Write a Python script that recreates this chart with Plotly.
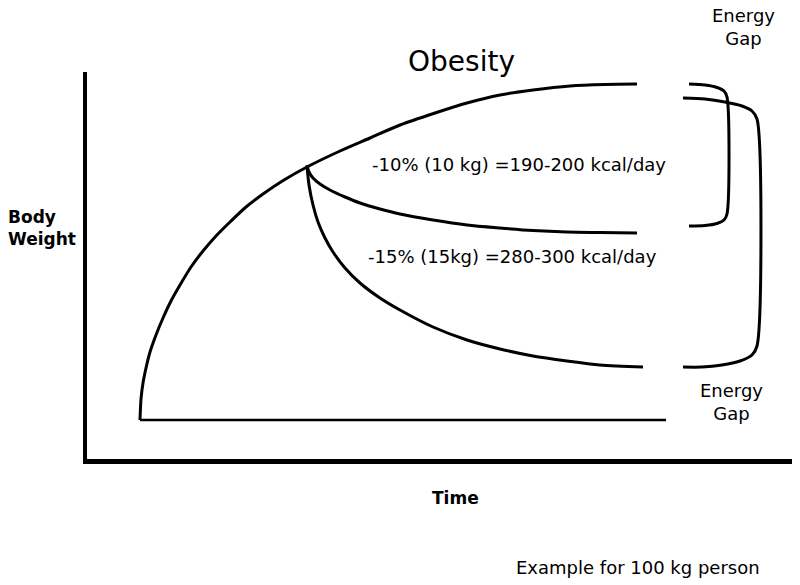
import plotly.graph_objects as go

# ---- data (time on x, body weight on y; arbitrary units) ----
growth_time   = [140, 141, 143, 146, 150, 156, 163, 171, 180, 191, 203, 216, 230, 246, 263, 284, 307,
                 340, 370, 400, 435, 467, 500, 533, 570, 605, 637]
growth_weight = [165, 186, 202, 217, 233, 250, 267, 284, 300, 318, 334, 349, 363, 378, 391, 405, 418,
                 434, 447, 460, 472, 482, 490, 495, 499, 500.5, 501]

loss10_time   = [307, 309, 313, 320, 330, 345, 360, 380, 400, 433, 467, 500, 533, 567, 600, 637]
loss10_weight = [420, 413, 407, 401, 395, 388, 382, 376, 371, 365, 360, 357, 354.5, 353, 352.5, 352]

loss15_time   = [307, 309, 313, 318, 325, 333, 345, 360, 380, 400, 433, 467, 500, 533, 567, 600, 643]
loss15_weight = [419, 400, 380, 363, 347, 333, 317, 302, 287, 275, 258, 245, 236, 229, 224, 220, 218]

baseline_time   = [140, 666]
baseline_weight = [165, 165]

gap10_time   = [689, 705, 717, 724, 727, 727, 724, 717, 705, 689]
gap10_weight = [501, 500, 497.5, 494, 488, 371, 365, 361.5, 359.5, 359]

gap15_time   = [683, 705, 725, 742, 752, 757, 757, 752, 740, 722, 702, 683]
gap15_weight = [487, 486, 483, 479, 474, 466, 239, 230, 224, 220, 218, 218]

labels = {
    "title": "Obesity",
    "loss10": "-10% (10 kg) =190-200 kcal/day",
    "loss15": "-15% (15kg) =280-300 kcal/day",
    "gap": "Energy<br>Gap",
    "ylabel": "Body<br>Weight",
    "xlabel": "Time",
    "note": "Example for 100 kg person",
}

FONT = "DejaVu Sans"
W, H = 800, 585
PLOT_X0, PLOT_X1 = 87, 792     # pixels of the plot area
PLOT_Y0, PLOT_Y1 = 72, 459
L = PLOT_X0
R = W - PLOT_X1
T = PLOT_Y0
B = H - PLOT_Y1

fig = go.Figure()

def curve(x, y, width=3):
    fig.add_trace(go.Scatter(x=x, y=y, mode="lines",
                             line=dict(color="black", width=width, shape="spline", smoothing=0.8),
                             hoverinfo="skip", showlegend=False, cliponaxis=False))

curve(growth_time, growth_weight)
curve(loss10_time, loss10_weight)
curve(loss15_time, loss15_weight)
curve(baseline_time, baseline_weight, width=2.7)
curve(gap10_time, gap10_weight)
curve(gap15_time, gap15_weight)

def px2paper(px, py):
    return (px - PLOT_X0) / (PLOT_X1 - PLOT_X0), (PLOT_Y1 - py) / (PLOT_Y1 - PLOT_Y0)

def note(text, px, py, size, bold=False, xanchor="center", align="center"):
    xp, yp = px2paper(px, py)
    fig.add_annotation(text=f"<b>{text}</b>" if bold else text, x=xp, y=yp,
                       xref="paper", yref="paper", showarrow=False,
                       xanchor=xanchor, yanchor="middle", align=align,
                       font=dict(family=FONT, size=size, color="black"))

note(labels["title"], 461, 61, 28)
note(labels["loss10"], 519, 164, 18)
note(labels["loss15"], 512, 256, 18)
note(labels["gap"], 743, 27, 18)
note(labels["gap"], 731, 402, 18)
note(labels["ylabel"], 6, 228, 17, bold=True, xanchor="left", align="left")
note(labels["xlabel"], 455, 498, 17, bold=True)
note(labels["note"], 638, 567, 18)

axis_common = dict(showgrid=False, zeroline=False, showticklabels=False, ticks="",
                   showline=True, linecolor="black", fixedrange=True)
fig.update_layout(
    width=W, height=H,
    margin=dict(l=L, r=R, t=T, b=B),
    paper_bgcolor="white", plot_bgcolor="white",
    xaxis=dict(range=[PLOT_X0, PLOT_X1], linewidth=5, **axis_common),
    yaxis=dict(range=[585 - PLOT_Y1, 585 - PLOT_Y0], linewidth=4, **axis_common),
    showlegend=False,
)

fig.write_html(
    "out.html",
    config={"displayModeBar": False},
    post_script="document.body.style.margin='0';document.body.style.overflow='hidden';",
)
